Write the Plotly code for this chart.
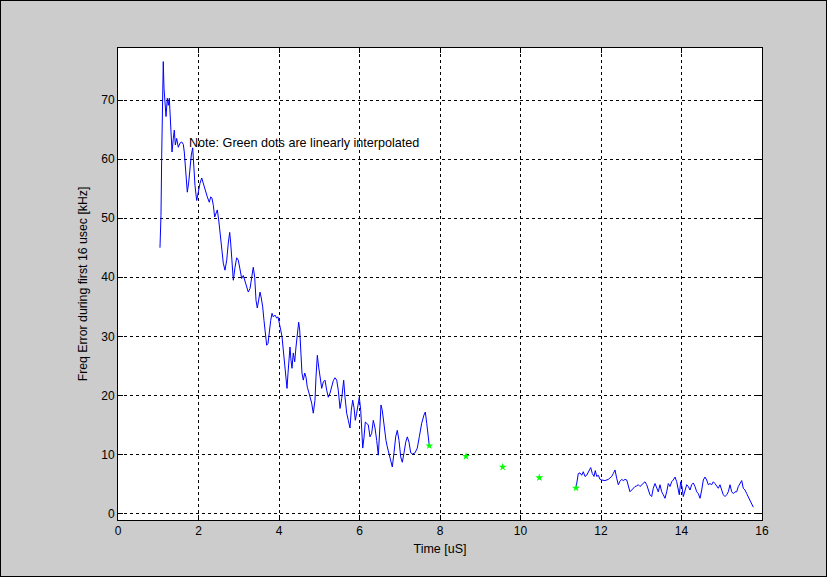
import plotly.graph_objects as go

# Measured frequency error, first contiguous stretch (time in us, error in kHz)
t_early = [1.043, 1.068, 1.086, 1.111, 1.125, 1.143, 1.168, 1.193, 1.225, 1.250,
           1.275, 1.309, 1.342, 1.374, 1.399, 1.424, 1.458, 1.498, 1.540, 1.583,
           1.622, 1.647, 1.689, 1.722, 1.757, 1.789, 1.821, 1.856, 1.881, 1.913,
           1.955, 1.995, 2.037, 2.080, 2.119, 2.161, 2.219, 2.268, 2.303, 2.335,
           2.368, 2.402, 2.435, 2.467, 2.502, 2.534, 2.576, 2.616, 2.658, 2.701,
           2.740, 2.775, 2.800, 2.832, 2.865, 2.907, 2.949, 2.989, 3.031, 3.073,
           3.113, 3.155, 3.198, 3.237, 3.280, 3.322, 3.361, 3.396, 3.429, 3.461,
           3.496, 3.528, 3.560, 3.595, 3.627, 3.660, 3.694, 3.727, 3.759, 3.794,
           3.826, 3.858, 3.901, 3.943, 3.975, 4.007, 4.042, 4.075, 4.107, 4.141,
           4.174, 4.199, 4.224, 4.248, 4.273, 4.298, 4.323, 4.355, 4.390, 4.422,
           4.455, 4.489, 4.514, 4.539, 4.571, 4.604, 4.639, 4.671, 4.703, 4.738,
           4.770, 4.812, 4.852, 4.894, 4.919, 4.952, 4.986, 5.019, 5.061, 5.101,
           5.143, 5.185, 5.225, 5.267, 5.309, 5.349, 5.391, 5.434, 5.473, 5.516,
           5.558, 5.583, 5.607, 5.640, 5.682, 5.722, 5.764, 5.796, 5.831, 5.863,
           5.896, 5.930, 5.963, 5.995, 6.030, 6.055, 6.080, 6.112, 6.144, 6.179,
           6.219, 6.261, 6.303, 6.343, 6.385, 6.427, 6.467, 6.509, 6.534, 6.566,
           6.609, 6.658, 6.691, 6.733, 6.775, 6.815, 6.857, 6.899, 6.939, 6.981,
           7.024, 7.063, 7.106, 7.148, 7.188, 7.230, 7.272, 7.322, 7.379, 7.436,
           7.486, 7.545, 7.602, 7.635, 7.670, 7.702, 7.734]
f_early = [45.0, 50.5, 60.7, 71.2, 76.5, 72.0, 69.1, 67.2, 70.3, 69.1,
           70.3, 65.8, 61.2, 63.5, 64.9, 62.4, 63.5, 62.0, 62.7, 62.9,
           62.5, 61.2, 57.8, 54.4, 56.1, 59.0, 60.7, 61.9, 59.0, 55.5,
           53.0, 54.7, 55.9, 56.8, 55.9, 54.7, 53.6, 52.7, 53.6, 53.4,
           52.2, 50.2, 51.0, 51.4, 49.7, 47.5, 44.6, 42.4, 41.2, 42.9,
           45.8, 47.6, 45.8, 42.9, 39.5, 41.7, 43.3, 42.9, 41.2, 39.8,
           40.3, 39.2, 38.4, 37.5, 38.1, 40.0, 41.7, 40.0, 36.1, 34.8,
           36.7, 37.5, 36.5, 35.0, 32.7, 29.9, 28.5, 28.8, 31.1, 32.7,
           33.9, 33.3, 33.6, 33.1, 33.3, 32.4, 31.1, 29.9, 27.7, 24.3,
           22.1, 21.2, 23.8, 27.2, 28.2, 26.0, 24.6, 27.2, 25.7, 28.2,
           30.5, 32.4, 31.1, 27.7, 23.8, 22.6, 23.8, 23.1, 21.4, 20.6,
           19.7, 18.7, 17.0, 19.2, 23.1, 26.8, 24.8, 22.9, 21.2, 22.3,
           22.6, 20.9, 19.7, 20.4, 21.7, 22.5, 23.0, 22.6, 20.9, 17.8,
           19.5, 21.7, 22.6, 19.7, 17.0, 15.8, 14.5, 17.5, 19.2, 18.0,
           15.8, 17.0, 18.7, 19.7, 17.5, 13.6, 11.1, 12.9, 15.5, 15.3,
           15.0, 13.0, 13.6, 15.8, 14.5, 12.4, 9.9, 15.0, 18.4, 17.5,
           14.7, 12.4, 11.3, 10.3, 9.1, 7.9, 10.3, 13.0, 14.1, 12.4,
           9.6, 8.7, 10.3, 12.1, 13.0, 12.1, 10.3, 10.1, 10.3, 11.1,
           13.0, 15.3, 16.7, 17.2, 15.3, 13.6, 11.5]

# Measured frequency error, second contiguous stretch
t_late = [11.379, 11.436, 11.478, 11.520, 11.560, 11.602, 11.645, 11.684, 11.744, 11.784,
          11.826, 11.858, 11.893, 11.933, 11.975, 12.017, 12.099, 12.181, 12.266, 12.306,
          12.348, 12.390, 12.430, 12.472, 12.514, 12.554, 12.596, 12.639, 12.678, 12.720,
          12.762, 12.802, 12.845, 12.887, 12.927, 12.969, 13.011, 13.051, 13.093, 13.135,
          13.175, 13.217, 13.259, 13.299, 13.342, 13.384, 13.423, 13.466, 13.508, 13.548,
          13.590, 13.632, 13.672, 13.714, 13.756, 13.796, 13.839, 13.881, 13.920, 13.945,
          13.980, 14.012, 14.045, 14.087, 14.129, 14.169, 14.211, 14.253, 14.293, 14.335,
          14.378, 14.417, 14.460, 14.502, 14.542, 14.584, 14.626, 14.666, 14.708, 14.750,
          14.790, 14.832, 14.874, 14.914, 14.956, 14.999, 15.038, 15.081, 15.123, 15.163,
          15.205, 15.247, 15.287, 15.329, 15.371, 15.411, 15.453, 15.496, 15.535, 15.578,
          15.620, 15.660, 15.702, 15.744, 15.784]
f_late = [4.35, 6.8, 6.9, 6.5, 7.1, 6.3, 6.5, 7.1, 7.8, 6.8,
          6.3, 7.3, 6.3, 6.5, 5.8, 5.7, 5.6, 5.8, 6.3, 6.8,
          7.4, 6.0, 4.9, 5.5, 5.8, 5.6, 5.8, 5.7, 4.9, 3.7,
          4.0, 4.3, 4.6, 4.7, 4.9, 4.6, 4.9, 5.1, 5.4, 4.9,
          4.0, 3.2, 2.9, 4.3, 5.1, 4.3, 3.7, 4.9, 3.7, 3.2,
          2.6, 3.7, 5.1, 4.6, 5.4, 5.7, 6.2, 5.4, 4.0, 3.2,
          5.4, 4.6, 2.9, 4.0, 4.9, 4.6, 4.0, 4.9, 5.2, 4.6,
          3.7, 3.4, 2.6, 4.0, 5.7, 6.2, 5.7, 4.9, 5.1, 4.9,
          5.4, 5.1, 4.6, 4.3, 4.9, 4.0, 3.2, 2.9, 3.2, 3.7,
          4.9, 3.7, 3.4, 3.7, 3.7, 4.6, 5.1, 5.6, 4.3, 4.0,
          3.4, 2.9, 2.3, 1.8, 1.1]

# Linearly interpolated samples bridging the gap
t_interp = [7.734, 8.646, 9.557, 10.467, 11.379]
f_interp = [11.5, 9.7, 7.9, 6.1, 4.35]

x_ticks = [0, 2, 4, 6, 8, 10, 12, 14, 16]
y_ticks = [0, 10, 20, 30, 40, 50, 60, 70]

font = "Liberation Sans, Arial, sans-serif"

fig = go.Figure()
fig.add_trace(go.Scatter(x=t_early, y=f_early, mode="lines",
                         line=dict(color="#0000ff", width=1), hoverinfo="skip"))
fig.add_trace(go.Scatter(x=t_late, y=f_late, mode="lines",
                         line=dict(color="#0000ff", width=1), hoverinfo="skip"))
fig.add_trace(go.Scatter(x=t_interp, y=f_interp, mode="markers",
                         marker=dict(color="#00ff00", size=6, symbol="star",
                                     line=dict(width=0)), hoverinfo="skip"))

axis_common = dict(
    showline=True, linecolor="#000000", linewidth=1, mirror="ticks",
    ticks="inside", ticklen=5, tickcolor="#000000", tickwidth=1,
    showgrid=True, gridcolor="#000000", gridwidth=1, griddash="dot",
    zeroline=False, tickfont=dict(family=font, size=12, color="#000000"),
)

fig.update_layout(
    width=827, height=577,
    margin=dict(l=118, r=65, t=48, b=57),
    paper_bgcolor="#cccccc", plot_bgcolor="#ffffff",
    showlegend=False,
    font=dict(family=font, size=12, color="#000000"),
    xaxis=dict(range=[0, 16], tickvals=x_ticks,
               title=dict(text="Time [uS]", standoff=6,
                          font=dict(family=font, size=12.5, color="#000000")),
               **axis_common),
    yaxis=dict(range=[-1.07, 78.8], tickvals=y_ticks,
               title=dict(text="Freq Error during first 16 usec [kHz]", standoff=10,
                          font=dict(family=font, size=12.3, color="#000000")),
               **axis_common),
    annotations=[dict(x=1.72, y=62.7, xref="x", yref="y", xanchor="left",
                      yanchor="middle", showarrow=False,
                      text="Note: Green dots are linearly interpolated",
                      font=dict(family=font, size=12.6, color="#000000"))],
    shapes=[dict(type="rect", xref="paper", yref="paper",
                 x0=-118 / 644, x1=1 + 65 / 644, y0=-57 / 472, y1=1 + 48 / 472,
                 line=dict(color="#000000", width=2), layer="below")],
)

fig.write_html("out.html")
